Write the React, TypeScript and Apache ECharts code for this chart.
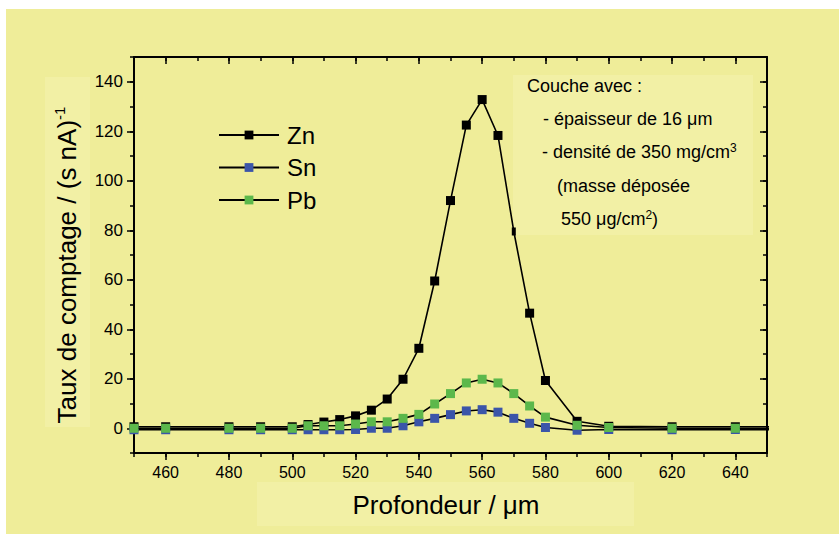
import { useEffect, useRef } from "react";
import * as echarts from "echarts";

// ---- data ----
const depth = [450, 460, 480, 490, 500, 505, 510, 515, 520, 525, 530, 535, 540, 545, 550, 555, 560, 565, 570, 575, 580, 590, 600, 620, 640, 660];
const zn = [0.6, 0.6, 0.6, 0.6, 0.6, 1.5, 2.5, 3.5, 5, 7.3, 11.8, 19.8, 32.3, 59.5, 92, 122.5, 132.8, 118.3, 79.5, 46.5, 19.3, 2.8, 0.8, 0.6, 0.6, 0.6];
const sn = [-0.6, -0.6, -0.6, -0.6, -0.6, -0.6, -0.6, -0.6, -0.5, 0, 0, 1, 2.6, 4, 5.5, 7, 7.5, 6.5, 4, 2, 0.3, -0.8, -0.5, -0.6, -0.5, -0.6];
const pb = [0, 0, 0, 0, 0, 1, 1, 1, 1.7, 2.6, 2.6, 4, 5.6, 9.8, 14, 18.3, 19.8, 18.3, 14, 9, 4.5, 1.2, 0.3, 0, 0, 0];
const seriesNames = ["Zn", "Sn", "Pb"];
const markerColors = ["#000000", "#3B55A9", "#5CB84B"];
const xMajorTicks = [460, 480, 500, 520, 540, 560, 580, 600, 620, 640];
const yMajorTicks = [0, 20, 40, 60, 80, 100, 120, 140];
const znNarrowDepth = 570;

const FONT = "'Liberation Sans', Arial, Helvetica, sans-serif";
const BG = "#EFED99";
const BOX = "#F2F0A5";

export default function App() {
  const ref = useRef<HTMLDivElement>(null);

  useEffect(() => {
    if (!ref.current) return;
    const chart = echarts.init(ref.current, undefined, { renderer: "svg" });

    const axisLine = { show: true, onZero: false, lineStyle: { color: "#000", width: 2 } };
    const tickStyle = { color: "#000", width: 1.5 };

    const xBase = { type: "value" as const, min: 450, max: 650, interval: 10, splitLine: { show: false } };
    const yBase = { type: "value" as const, min: -10, max: 150, interval: 10, splitLine: { show: false } };

    const seriesData = [zn, sn, pb];

    const series = seriesNames.map((name, s) => ({
      name,
      type: "line",
      xAxisIndex: 0,
      yAxisIndex: 0,
      data: depth.map((d, i) => {
        const v = [d, seriesData[s][i]];
        if (s === 0 && d === znNarrowDepth) return { value: v, symbolSize: [4, 8] };
        return v;
      }),
      symbol: "rect",
      symbolSize: 9,
      showSymbol: true,
      clip: true,
      z: 2 + s,
      itemStyle: { color: markerColors[s], borderWidth: 0 },
      lineStyle: { color: "#000", width: 1.6 },
      emphasis: { disabled: true },
    }));

    const supRich = (fs: number, lh: number) => ({ fontSize: fs, fontFamily: FONT, fill: "#000", verticalAlign: "top", lineHeight: lh });

    const option: any = {
      animation: false,
      backgroundColor: "transparent",
      textStyle: { fontFamily: FONT },
      grid: { left: 134, right: 72, top: 57, bottom: 83, containLabel: false, outerBoundsMode: "none" },
      xAxis: [
        {
          ...xBase,
          position: "bottom",
          axisLine,
          axisTick: { show: true, customValues: xMajorTicks, length: 7, inside: false, lineStyle: tickStyle },
          axisLabel: { show: true, customValues: xMajorTicks, color: "#000", fontSize: 16, fontFamily: FONT, margin: 11 },
        },
        {
          ...xBase,
          position: "bottom",
          axisLine: { show: false, onZero: false },
          axisTick: { show: true, length: 4, inside: false, lineStyle: tickStyle },
          axisLabel: { show: false },
        },
        {
          ...xBase,
          position: "top",
          axisLine,
          axisTick: { show: true, customValues: xMajorTicks, length: 7, inside: true, lineStyle: tickStyle },
          axisLabel: { show: false },
        },
        {
          ...xBase,
          position: "top",
          axisLine: { show: false, onZero: false },
          axisTick: { show: true, length: 4, inside: true, lineStyle: tickStyle },
          axisLabel: { show: false },
        },
      ],
      yAxis: [
        {
          ...yBase,
          position: "left",
          axisLine,
          axisTick: { show: true, customValues: yMajorTicks, length: 7, inside: false, lineStyle: tickStyle },
          axisLabel: { show: true, customValues: yMajorTicks, color: "#000", fontSize: 17, fontFamily: FONT, margin: 11 },
        },
        {
          ...yBase,
          position: "left",
          axisLine: { show: false, onZero: false },
          axisTick: { show: true, length: 4, inside: false, lineStyle: tickStyle },
          axisLabel: { show: false },
        },
        {
          ...yBase,
          position: "right",
          axisLine,
          axisTick: { show: true, customValues: yMajorTicks, length: 7, inside: true, lineStyle: tickStyle },
          axisLabel: { show: false },
        },
        {
          ...yBase,
          position: "right",
          axisLine: { show: false, onZero: false },
          axisTick: { show: true, length: 4, inside: true, lineStyle: tickStyle },
          axisLabel: { show: false },
        },
      ],
      legend: {
        show: true,
        orient: "vertical",
        left: 218,
        top: 123,
        padding: 0,
        itemWidth: 60,
        itemHeight: 11,
        itemGap: 8.5,
        selectedMode: false,
        data: seriesNames,
        textStyle: { color: "#000", fontSize: 24, fontFamily: FONT, lineHeight: 24, padding: [0, 0, 0, 3] },
      },
      graphic: [
        { type: "rect", z: -10, silent: true, shape: { x: 6, y: 9, width: 833, height: 525 }, style: { fill: BG } },
        { type: "rect", z: -9, silent: true, shape: { x: 45, y: 77, width: 45, height: 350 }, style: { fill: BOX } },
        { type: "rect", z: -9, silent: true, shape: { x: 257, y: 482, width: 377, height: 44 }, style: { fill: BOX } },
        { type: "rect", z: -9, silent: true, shape: { x: 513, y: 75, width: 240, height: 160 }, style: { fill: BOX } },
        {
          type: "text",
          z: 5,
          x: 67,
          y: 265,
          rotation: Math.PI / 2,
          style: {
            text: "Taux de comptage / (s nA){sup|-1}",
            fill: "#000",
            fontSize: 26,
            fontFamily: FONT,
            align: "center",
            verticalAlign: "middle",
            rich: { sup: supRich(15, 30) },
          },
        },
        {
          type: "text",
          z: 5,
          x: 446,
          y: 505,
          style: {
            text: "Profondeur / μm",
            fill: "#000",
            fontSize: 26,
            fontFamily: FONT,
            align: "center",
            verticalAlign: "middle",
          },
        },
        {
          type: "text", z: 5, x: 527, y: 86,
          style: { text: "Couche avec :", fill: "#000", fontSize: 18, fontFamily: FONT, align: "left", verticalAlign: "middle" },
        },
        {
          type: "text", z: 5, x: 543, y: 119,
          style: { text: "- épaisseur de 16 μm", fill: "#000", fontSize: 18, fontFamily: FONT, align: "left", verticalAlign: "middle" },
        },
        {
          type: "text", z: 5, x: 542, y: 152,
          style: {
            text: "- densité de 350 mg/cm{sup|3}", fill: "#000", fontSize: 18, fontFamily: FONT, align: "left", verticalAlign: "middle",
            rich: { sup: supRich(12, 21) },
          },
        },
        {
          type: "text", z: 5, x: 557, y: 186,
          style: { text: "(masse déposée", fill: "#000", fontSize: 18, fontFamily: FONT, align: "left", verticalAlign: "middle" },
        },
        {
          type: "text", z: 5, x: 561, y: 219,
          style: {
            text: "550 μg/cm{sup|2}{n|)}", fill: "#000", fontSize: 18, fontFamily: FONT, align: "left", verticalAlign: "middle",
            rich: {
              sup: supRich(12, 21),
              n: { fontSize: 18, fontFamily: FONT, fill: "#000", lineHeight: 21 },
            },
          },
        },
      ],
      series,
    };

    chart.setOption(option);
    return () => chart.dispose();
  }, []);

  return (
    <div
      ref={ref}
      style={{ position: "fixed", left: 0, top: 0, width: 839, height: 536, background: "#ffffff" }}
    />
  );
}
